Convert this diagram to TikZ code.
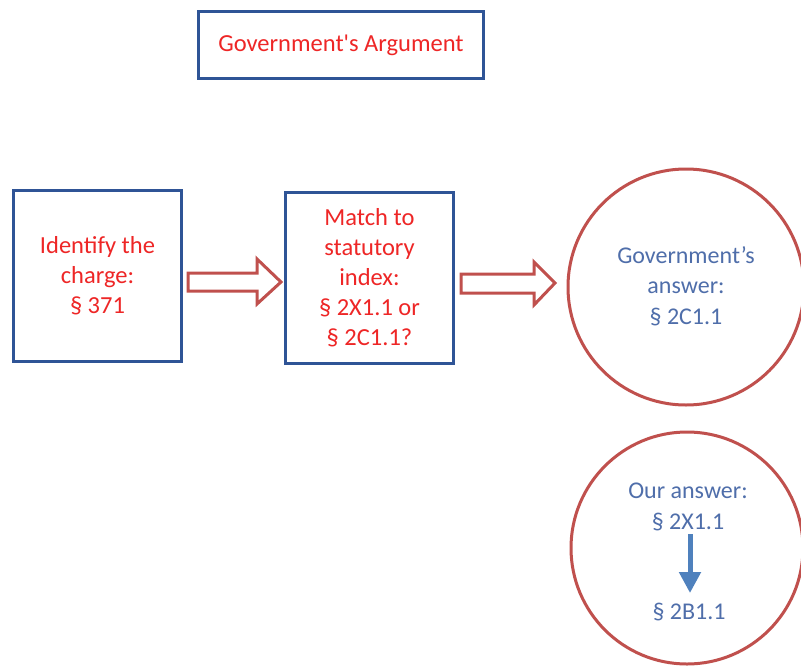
\documentclass[tikz,border=0pt]{standalone}
\usepackage{fontspec}
\setmainfont{Carlito}
\usetikzlibrary{arrows.meta,positioning}
\definecolor{boxblue}{RGB}{47,84,150}
\definecolor{txtred}{RGB}{238,38,38}
\definecolor{ringred}{RGB}{192,80,77}
\definecolor{txtblue}{RGB}{79,110,170}
\definecolor{arrblue}{RGB}{79,129,189}
\tikzset{
  bluebox/.style={draw=boxblue,line width=3pt,fill=white,align=center,text=txtred,
    font=\fontsize{24.5}{30}\selectfont,inner sep=0pt},
  ring/.style={draw=ringred,line width=3pt,circle,inner sep=0pt},
  bluetext/.style={text=txtblue,align=center,font=\fontsize{24}{30.5}\selectfont,inner sep=1pt},
  blockarrow/.style={draw=ringred,line width=3pt,fill=white,line join=miter}
}
\begin{document}
\begin{tikzpicture}[x=1pt,y=-1pt]
\useasboundingbox (0,0) rectangle (801,667);
\fill[white] (0,0) rectangle (801,667);
% title
\node[bluebox,minimum width=285pt,minimum height=67pt] (title) at (341,45) {Government\textquotesingle s Argument};
% boxes
\node[bluebox,minimum width=168pt,minimum height=171pt] (charge) at (97.5,276) {Identify the\\charge:\\§ 371};
\node[bluebox,minimum width=168pt,minimum height=171pt] (match) at (369.5,278) {Match to\\statutory\\index:\\§ 2X1.1 or\\§ 2C1.1?};
% block arrows
\draw[blockarrow] (188,273) -- (257,273) -- (257,259) -- (281,282) -- (257,304) -- (257,291) -- (188,291) -- cycle;
\draw[blockarrow] (461,274) -- (534,274) -- (534,262) -- (555,283) -- (534,305) -- (534,293) -- (461,293) -- cycle;
% circles
\node[ring,minimum size=236pt] (gov) at (686,287) {};
\node[bluetext] (govtxt) at (686,286) {Government’s\\answer:\\§ 2C1.1};
\node[ring,minimum size=232pt] (our) at (687,548) {};
\node[bluetext] (ourtxt) at (688,507) {Our answer:\\§ 2X1.1};
\node[bluetext] (b211) at (689,612) {§ 2B1.1};
\draw[arrblue,line width=5pt,-{Triangle[width=21pt,length=21pt]}] (690,534) -- (690,593);
\end{tikzpicture}
\end{document}
